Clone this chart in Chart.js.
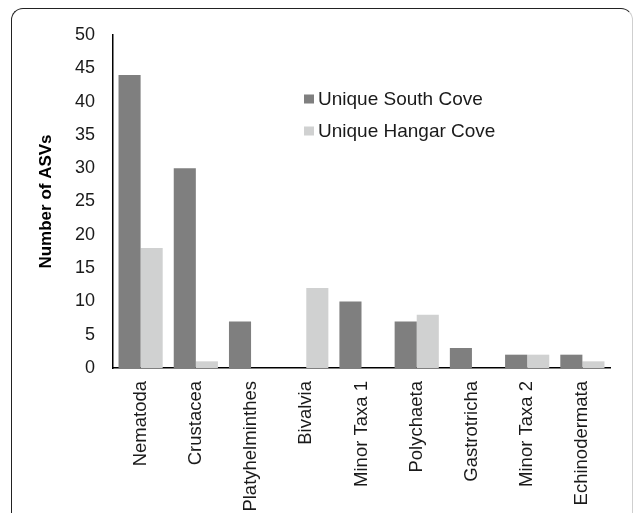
<!DOCTYPE html>
<html>
<head>
<meta charset="utf-8">
<script src="https://cdn.jsdelivr.net/npm/chart.js@4"></script>
<style>
  html, body { margin: 0; padding: 0; background: #fff; }
  #wrap { position: relative; width: 635px; height: 513px; overflow: hidden; }
  #frame { position: absolute; left: 11px; top: 8px; width: 620px; height: 540px;
           border-top: 1.5px solid #222; border-left: 1.5px solid #222; border-right: 1.5px solid #cfcfcf;
           border-radius: 12px; pointer-events: none; }
  canvas { position: absolute; left: 0; top: 0; }
</style>
</head>
<body>
<div id="wrap">
  <canvas id="c" width="635" height="513"></canvas>
  <div id="frame"></div>
</div>
<script>
const categories = ["Nematoda", "Crustacea", "Platyhelminthes", "Bivalvia", "Minor Taxa 1", "Polychaeta", "Gastrotricha", "Minor Taxa 2", "Echinodermata"];
const southCove = [44, 30, 7, 0, 10, 7, 3, 2, 2];
const hangarCove = [18, 1, 0, 12, 0, 8, 0, 2, 1];
const seriesNames = ["Unique South Cove", "Unique Hangar Cove"];
const seriesColors = ["#7f7f7f", "#d0d1d1"];

const FONT = "'Liberation Sans', Arial, Helvetica, sans-serif";

const legendPlugin = {
  id: 'insideLegend',
  afterDraw(chart) {
    const ctx = chart.ctx;
    const a = chart.chartArea;
    const x0 = a.left + 191;
    const ys = [a.top + 64, a.top + 96];
    ctx.save();
    ctx.font = "19px " + FONT;
    ctx.textBaseline = 'middle';
    ctx.textAlign = 'left';
    chart.data.datasets.forEach((ds, i) => {
      ctx.fillStyle = ds.backgroundColor;
      ctx.fillRect(x0, ys[i] - 4.5, 10, 9);
      ctx.fillStyle = '#1a1a1a';
      ctx.fillText(ds.label, x0 + 14, ys[i] + 1);
    });
    ctx.restore();
  }
};

new Chart(document.getElementById('c'), {
  type: 'bar',
  data: {
    labels: categories,
    datasets: [
      { label: seriesNames[0], data: southCove, backgroundColor: seriesColors[0] },
      { label: seriesNames[1], data: hangarCove, backgroundColor: seriesColors[1] }
    ]
  },
  options: {
    responsive: false,
    animation: false,
    devicePixelRatio: 1,
    layout: { padding: { left: 36, right: 25, top: 35, bottom: 0 } },
    datasets: { bar: { categoryPercentage: 0.8, barPercentage: 1.0 } },
    plugins: { legend: { display: false }, tooltip: { enabled: false } },
    scales: {
      x: {
        grid: { display: false, drawTicks: false },
        border: { display: true, color: '#000', width: 1.5 },
        ticks: { color: '#1a1a1a', font: { family: FONT, size: 18.5 }, minRotation: 90, maxRotation: 90, padding: 13, autoSkip: false },
        afterFit(scale) { scale.height = 145; }
      },
      y: {
        min: 0, max: 50,
        grid: { display: false, drawTicks: false },
        border: { display: true, color: '#000', width: 1.5 },
        ticks: { stepSize: 5, color: '#1a1a1a', font: { family: FONT, size: 18 }, padding: 18 },
        title: { display: true, text: 'Number of ASVs', color: '#000', font: { family: FONT, size: 17, weight: 'bold' }, padding: 0 },
        afterFit(scale) { scale.width = 77; }
      }
    }
  },
  plugins: [legendPlugin]
});
</script>
</body>
</html>
